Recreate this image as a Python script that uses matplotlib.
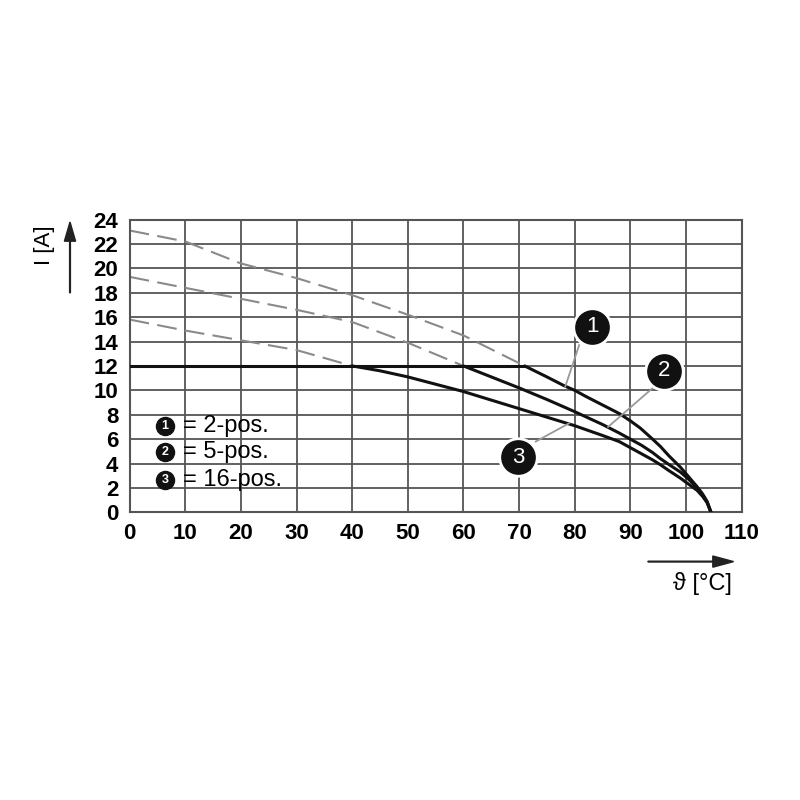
import matplotlib
matplotlib.use('Agg')
import matplotlib.pyplot as plt
from matplotlib.patches import Rectangle, FancyArrow

plt.rcParams['font.family'] = ['Liberation Sans', 'DejaVu Sans']

# derating curves, temperature [°C] vs current [A]
t_flat = [0, 71]
i_flat = [12, 12]

t_pos2 = [71, 75, 78, 80, 82, 85, 88, 90, 91.8, 94, 95.4, 97, 99, 100.5, 102, 103, 103.8, 104.5]
i_pos2 = [12, 11.1, 10.4, 10.0, 9.5, 8.8, 8.1, 7.5, 6.9, 6.0, 5.4, 4.6, 3.7, 2.9, 2.1, 1.5, 0.9, 0]

t_pos5 = [60, 65, 70, 75, 80, 85, 88, 90, 92, 94, 95.4, 97, 99, 100.5, 102, 103, 103.8, 104.5]
i_pos5 = [12, 11.1, 10.2, 9.25, 8.25, 7.2, 6.5, 6.0, 5.5, 4.9, 4.4, 3.9, 3.3, 2.7, 2.0, 1.4, 0.8, 0]

t_pos16 = [40, 45, 50, 55, 60, 65, 70, 75, 80, 85, 88, 90, 92, 94, 95.4, 97, 99, 100.5, 102, 103, 103.8, 104.5]
i_pos16 = [12, 11.6, 11.1, 10.5, 9.9, 9.2, 8.5, 7.8, 7.1, 6.3, 5.8, 5.3, 4.8, 4.3, 3.9, 3.4, 2.8, 2.3, 1.8, 1.3, 0.8, 0]

# dashed extrapolations
t_dash2 = [0, 10, 20, 30, 40, 50, 60, 71]
i_dash2 = [23.1, 22.2, 20.4, 19.2, 17.8, 16.2, 14.5, 12.0]
t_dash5 = [0, 10, 20, 30, 40, 50, 60]
i_dash5 = [19.3, 18.4, 17.5, 16.6, 15.6, 13.9, 12.0]
t_dash16 = [0, 10, 20, 30, 40]
i_dash16 = [15.8, 14.9, 14.1, 13.3, 12.0]

x_ticks = list(range(0, 111, 10))
y_ticks = list(range(0, 25, 2))

legend_labels = ['= 2-pos.', '= 5-pos.', '= 16-pos.']
legend_y = [7.07, 4.97, 2.65]
callouts = [('1', 83.2, 15.2, 80.8, 13.7, 78.3, 10.3),
            ('2', 96.0, 11.6, 94.3, 10.3, 86.0, 7.0),
            ('3', 69.9, 4.5, 73.0, 5.8, 79.0, 7.3)]

GRID = '#555555'
DASH = '#8a8a8a'

fig = plt.figure(figsize=(8, 8), dpi=100)
ax = fig.add_axes([0.162, 0.3596, 0.765, 0.366])
ax.set_xlim(0, 110)
ax.set_ylim(0, 24)
ax.set_xticks(x_ticks)
ax.set_yticks(y_ticks)
ax.grid(True, color=GRID, linewidth=1.3, zorder=0)
ax.tick_params(length=0, labelsize=16, pad=8)
for lab in ax.get_xticklabels() + ax.get_yticklabels():
    lab.set_fontweight('bold')
for sp in ax.spines.values():
    sp.set_color(GRID)
    sp.set_linewidth(1.5)

for t, i in [(t_dash2, i_dash2), (t_dash5, i_dash5), (t_dash16, i_dash16)]:
    ax.plot(t, i, color=DASH, linewidth=1.5, dashes=(9.5, 4), zorder=2)

for t, i in [(t_flat, i_flat), (t_pos2, i_pos2), (t_pos5, i_pos5), (t_pos16, i_pos16)]:
    ax.plot(t, i, color='#111111', linewidth=2.2, zorder=3,
            solid_capstyle='round', solid_joinstyle='round')

# callout bubbles
for num, cx, cy, x0, y0, x1, y1 in callouts:
    ax.plot([x0, x1], [y0, y1], color='#999999', linewidth=1.3, zorder=4)
    ax.plot(cx, cy, 'o', markersize=27, markerfacecolor='#111111',
            markeredgecolor='white', markeredgewidth=2, zorder=5)
    ax.text(cx, cy, num, color='white', fontsize=16, ha='center', va='center',
            zorder=6)

# legend box
ax.add_patch(Rectangle((1, 0.8), 29.2, 7.6, facecolor='white', edgecolor='none', zorder=1))
for k, lab in enumerate(legend_labels):
    yy = legend_y[k]
    ax.plot(6.4, yy, 'o', markersize=13, markerfacecolor='#111111',
            markeredgecolor='#111111', zorder=5)
    ax.text(6.4, yy, str(k + 1), color='white', fontsize=9, fontweight='bold',
            ha='center', va='center', zorder=6)
    ax.text(9.6, yy, lab, fontsize=17, ha='left', va='center', zorder=6)

# axis labels with arrows
fig.text(0.056, 0.694, 'I [A]', rotation=90, fontsize=16, ha='center', va='center')
fig.patches.append(FancyArrow(
    0.0875, 0.634, 0, 0.0885, width=0.001, head_width=0.014, head_length=0.024,
    length_includes_head=True, color='#222222', transform=fig.transFigure, figure=fig))
fig.text(0.878, 0.271, 'ϑ [°C]', fontsize=17, ha='center', va='center')
fig.patches.append(FancyArrow(
    0.81, 0.298, 0.107, 0, width=0.001, head_width=0.014, head_length=0.026,
    length_includes_head=True, color='#222222', transform=fig.transFigure, figure=fig))

fig.savefig('out.png', dpi=100, facecolor='white')
